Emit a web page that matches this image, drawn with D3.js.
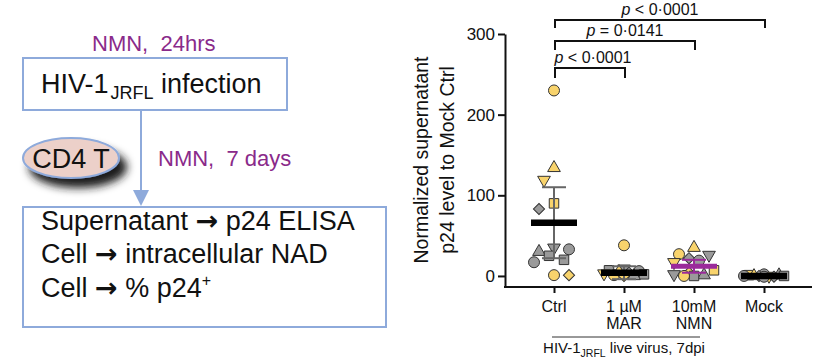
<!DOCTYPE html>
<html><head><meta charset="utf-8">
<script src="https://cdn.jsdelivr.net/npm/d3@7/dist/d3.min.js"></script>
<style>
html,body{margin:0;padding:0;background:#fff;}
svg{display:block;font-family:"Liberation Sans",Arial,sans-serif;}
</style></head>
<body><svg id="c" width="824" height="364"></svg>
<script>
// ---------- data ----------
const categories = ["Ctrl", "MAR", "NMN", "Mock"];
const tickLine1 = ["Ctrl", "1 µM", "10mM", "Mock"];
const tickLine2 = ["", "MAR", "NMN", ""];
const yTicks = [0, 100, 200, 300];

const ctrlValues  = [230, 134, 119, 90, 83, 35, 30, 33, 25, 20, 17, 1, 1];
const ctrlShapes  = ["circle","triUp","triDown","square","diamond","triDown","triUp","circle","square","square","circle","circle","diamond"];
const ctrlColors  = ["Y","Y","Y","Y","G","G","G","G","G","G","G","Y","Y"];

const marValues   = [38, 9, 7, 6, 5, 4, 3, 2, 1, 0, 0];
const marShapes   = ["circle","triDown","square","circle","triUp","diamond","triDown","square","circle","diamond","triUp"];
const marColors   = ["Y","G","G","G","Y","G","Y","G","Y","Y","G"];

const nmnValues   = [35, 27, 26, 22, 19, 17, 7, 4, 2, 1, 0, 0];
const nmnShapes   = ["triUp","circle","triDown","diamond","circle","triDown","square","diamond","triDown","triUp","square","circle"];
const nmnColors   = ["Y","Y","G","G","G","Y","Y","Y","G","G","G","Y"];

const mockValues  = [2, 1, 1, 0, 0, 0, 0, 0, -1, -1];
const mockShapes  = ["circle","square","triUp","diamond","triDown","circle","square","triUp","diamond","circle"];
const mockColors  = ["G","Y","G","G","Y","G","G","Y","G","G"];

const means = [66, 4, 12, 0];
const sds   = [44, 8, 8, 1];
const meanColors = ["#000", "#000", "#9b2a9b", "#000"];
const errColors  = ["#666", "#666", "#9b2a9b", "#111"];

const comparisons = [
  {from: "Ctrl", to: "MAR",  label: "< 0·0001"},
  {from: "Ctrl", to: "NMN",  label: "= 0·0141"},
  {from: "Ctrl", to: "Mock", label: "< 0·0001"}
];

// ---------- drawing ----------
const svg = d3.select("#c");
const blue = "#8eaadb", purple = "#8a2a8a";
const defs = svg.append("defs");
const f = defs.append("filter").attr("id","sh").attr("x","-30%").attr("y","-30%").attr("width","170%").attr("height","190%");
f.append("feDropShadow").attr("dx",7).attr("dy",9).attr("stdDeviation",4).attr("flood-color","#1a1a1a").attr("flood-opacity",1);

// flow chart
const fc = svg.append("g").attr("fill","#111");
fc.append("text").attr("x",92).attr("y",51).attr("font-size",22).attr("fill",purple)
  .style("white-space","pre").text("NMN,  24hrs");
fc.append("rect").attr("x",23).attr("y",58).attr("width",264).attr("height",52)
  .attr("fill","#fff").attr("stroke",blue).attr("stroke-width",2);
const t1 = fc.append("text").attr("x",41).attr("y",93).attr("font-size",27);
t1.append("tspan").text("HIV-1");
t1.append("tspan").attr("font-size",18).attr("dx",2).attr("dy",6).text("JRFL");
t1.append("tspan").attr("dy",-6).text(" infection");

fc.append("line").attr("x1",141).attr("x2",141).attr("y1",110).attr("y2",194)
  .attr("stroke",blue).attr("stroke-width",2);
fc.append("path").attr("d","M133,190L149,190L141,206Z").attr("fill",blue);

fc.append("ellipse").attr("cx",71).attr("cy",158).attr("rx",48).attr("ry",20)
  .attr("fill","#ecd0c9").attr("stroke",blue).attr("stroke-width",2).attr("filter","url(#sh)");
fc.append("text").attr("x",71).attr("y",168).attr("font-size",27).attr("text-anchor","middle").text("CD4 T");
fc.append("text").attr("x",158).attr("y",166).attr("font-size",22).attr("fill",purple)
  .style("white-space","pre").text("NMN,  7 days");

fc.append("rect").attr("x",23).attr("y",207).attr("width",363).attr("height",120)
  .attr("fill","#fff").attr("stroke",blue).attr("stroke-width",2);
const lines = [["Supernatant ", " p24 ELISA", 230], ["Cell ", " intracellular NAD", 263], ["Cell ", " % p24", 297]];
lines.forEach((l, i) => {
  const t = fc.append("text").attr("x",41).attr("y",l[2]).attr("font-size",27).style("white-space","pre");
  t.append("tspan").text(l[0]);
  t.append("tspan").attr("font-family","DejaVu Sans").attr("font-weight","bold").attr("font-size",27).text("→");
  t.append("tspan").text(l[1]);
  if (i === 2) t.append("tspan").attr("font-size",16).attr("dy",-11).text("+");
});

// chart
const x = d3.scalePoint().domain(categories).range([554, 764]);
const y = d3.scaleLinear().domain([-13.7, 300]).range([287, 34]);
const ch = svg.append("g");

const yAx = ch.append("g").attr("transform","translate(505,0)")
  .call(d3.axisLeft(y).tickValues(yTicks).tickSize(7).tickSizeOuter(0).tickPadding(3));
yAx.select(".domain").attr("stroke","#111").attr("stroke-width",2);
yAx.selectAll(".tick line").attr("stroke","#111").attr("stroke-width",2);
yAx.selectAll(".tick text").attr("font-size",17).attr("font-family","Liberation Sans, Arial").attr("fill","#111");

const xAx = ch.append("g").attr("transform","translate(0,287)")
  .call(d3.axisBottom(x).tickSize(6).tickSizeOuter(0).tickFormat(""));
xAx.select(".domain").attr("d","M504,0H812").attr("stroke","#111").attr("stroke-width",2);
xAx.selectAll(".tick line").attr("stroke","#111").attr("stroke-width",2);
categories.forEach((c, i) => {
  ch.append("text").attr("x",x(c)).attr("y",312).attr("text-anchor","middle").attr("font-size",16).attr("fill","#111").text(tickLine1[i]);
  if (tickLine2[i]) ch.append("text").attr("x",x(c)).attr("y",329).attr("text-anchor","middle").attr("font-size",16).attr("fill","#111").text(tickLine2[i]);
});
ch.append("line").attr("x1",x("Ctrl")-2).attr("x2",x("NMN")+6).attr("y1",337).attr("y2",337).attr("stroke","#333").attr("stroke-width",1);
const xl = ch.append("text").attr("x",(x("Ctrl")+x("NMN"))/2).attr("y",353).attr("text-anchor","middle").attr("font-size",15).attr("fill","#111");
xl.append("tspan").text("HIV-1");
xl.append("tspan").attr("font-size",10.5).attr("dy",4).text("JRFL");
xl.append("tspan").attr("dy",-4).text(" live virus, 7dpi");

// y label
const yl = ch.append("g").attr("transform","translate(434,160) rotate(-90)");
yl.append("text").attr("x",0).attr("y",-6).attr("text-anchor","middle").attr("font-size",19.5).attr("fill","#111").text("Normalized supernatant");
yl.append("text").attr("x",0).attr("y",20).attr("text-anchor","middle").attr("font-size",19.5).attr("fill","#111").text("p24 level to Mock Ctrl");

// points
const groups = [
  {c:"Ctrl", v:ctrlValues, s:ctrlShapes, col:ctrlColors},
  {c:"MAR",  v:marValues,  s:marShapes,  col:marColors},
  {c:"NMN",  v:nmnValues,  s:nmnShapes,  col:nmnColors},
  {c:"Mock", v:mockValues, s:mockShapes, col:mockColors}
];
const fillOf = {Y:"#f8d36c", G:"#9a9a9a"};
const symOf = {
  circle: d3.symbol(d3.symbolCircle, 95)(),
  square: d3.symbol(d3.symbolSquare, 90)(),
  triUp: d3.symbol(d3.symbolTriangle, 70)(),
  triDown: d3.symbol(d3.symbolTriangle, 70)(),
  diamond: d3.symbol(d3.symbolSquare, 62)()
};
const rotOf = {circle:0, square:0, triUp:0, triDown:180, diamond:45};
const minD = 14, step = 5, maxOff = 20;
groups.forEach(g => {
  const pts = g.v.map((v,i) => ({v, s:g.s[i], col:g.col[i]}));
  const placed = [];
  pts.forEach(p => {
    const py = y(p.v);
    let best = 0, bestD = -1;
    for (let k = 0; k <= 2*Math.floor(maxOff/step); k++) {
      const cand = k === 0 ? 0 : (k % 2 ? -1 : 1) * Math.ceil(k/2) * step;
      const d = placed.length ? Math.min(...placed.map(q => Math.hypot(q.dx - cand, q.py - py))) : Infinity;
      if (d >= minD) { best = cand; bestD = d; break; }
      if (d > bestD) { bestD = d; best = cand; }
    }
    placed.push({dx: best, py, p});
  });
  const gg = ch.append("g");
  placed.forEach(q => {
    gg.append("path").attr("d", symOf[q.p.s])
      .attr("transform", `translate(${x(g.c)+q.dx},${q.py}) rotate(${rotOf[q.p.s]})`)
      .attr("fill", fillOf[q.p.col]).attr("stroke","#333").attr("stroke-width",1);
  });
});

// error bars and means
categories.forEach((c, i) => {
  const cx = x(c), ec = errColors[i];
  const lo = y(Math.max(means[i]-sds[i], -13)), hi = y(means[i]+sds[i]);
  ch.append("line").attr("x1",cx).attr("x2",cx).attr("y1",lo).attr("y2",hi).attr("stroke",ec).attr("stroke-width",2);
  ch.append("line").attr("x1",cx-12).attr("x2",cx+12).attr("y1",hi).attr("y2",hi).attr("stroke",ec).attr("stroke-width",2);
  ch.append("line").attr("x1",cx-12).attr("x2",cx+12).attr("y1",lo).attr("y2",lo).attr("stroke",ec).attr("stroke-width",2);
  ch.append("line").attr("x1",cx-23).attr("x2",cx+23).attr("y1",y(means[i])).attr("y2",y(means[i]))
    .attr("stroke",meanColors[i]).attr("stroke-width", i===2 ? 5 : 6.5);
});

// significance brackets
const brY = [68, 41, 20], brDrop = [10, 9, 8];
comparisons.forEach((cmp, i) => {
  const x1 = x(cmp.from)+1, x2 = x(cmp.to)+1, by = brY[i];
  ch.append("path").attr("d", `M${x1},${by+brDrop[i]}V${by}H${x2}V${by+brDrop[i]}`)
    .attr("fill","none").attr("stroke","#111").attr("stroke-width",2);
  const t = ch.append("text").attr("x",(x1+x2)/2 - (i===0 ? -3 : 0)).attr("y",by-5).attr("text-anchor","middle").attr("font-size",16).attr("fill","#111");
  t.append("tspan").attr("font-style","italic").text("p");
  t.append("tspan").text(" " + cmp.label);
});
</script></body></html>
